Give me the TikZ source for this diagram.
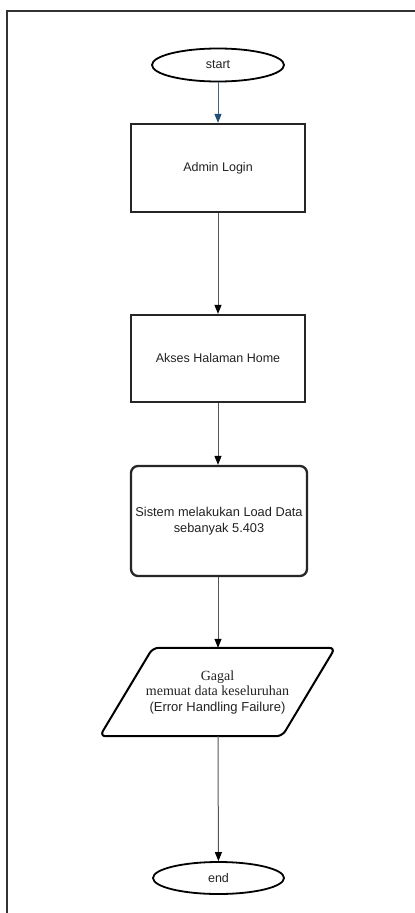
\documentclass[tikz,border=0pt]{standalone}
\usepackage{fontspec}
\setmainfont{Liberation Sans}
\newfontfamily\timesf{Liberation Serif}
\usetikzlibrary{shapes.geometric,arrows.meta}
\definecolor{txt}{HTML}{222222}
\definecolor{bluearrow}{HTML}{1F4E79}
\definecolor{shaft}{HTML}{555555}
\tikzset{
  terminal/.style={ellipse, draw=black, line width=1.8pt, minimum width=132pt, minimum height=33pt, inner sep=0pt, text=txt, font=\fontsize{12.5}{15}\selectfont},
  procbox/.style={rectangle, draw=black!85, line width=2.3pt, minimum width=174pt, inner sep=0pt, text=txt, font=\fontsize{12.5}{15}\selectfont},
  flow/.style={draw=shaft, line width=1pt, -{Stealth[length=9pt,width=7pt,inset=0pt,color=black]}},
  frame/.style={draw=black!80, line width=1.6pt}
}
\begin{document}
\begin{tikzpicture}[x=1pt,y=-1pt]
\useasboundingbox (0,0) rectangle (415,913);
\fill[white] (0,0) rectangle (415,913);
\draw[frame] (7,913) -- (7,11) -- (415,11);

\node[terminal] (start) at (218,65) {start};
\node[procbox, minimum height=88pt] (login) at (218,168) {Admin Login};
\node[procbox, minimum height=87pt] (home) at (218,358.5) {Akses Halaman Home};
\node[procbox, rounded corners=7pt, minimum width=176pt, minimum height=110pt, align=center, font=\fontsize{12.8}{16}\selectfont] (load) at (219,521) {Sistem melakukan Load Data\\sebanyak 5.403};
\node[minimum width=235pt, minimum height=88pt, inner sep=0pt, align=center, text=txt, font=\fontsize{14}{15.5}\selectfont] (fail) at (217.5,692)
  {\timesf Gagal\\\timesf memuat data keseluruhan\\\fontsize{13}{15.5}\selectfont (Error Handling Failure)};
\draw[draw=black, line width=2pt, rounded corners=6pt]
  ([xshift=53pt]fail.north west) -- (fail.north east) -- ([xshift=-53pt]fail.south east) -- (fail.south west) -- cycle;
\node[terminal, minimum height=32pt, minimum width=131pt] (end) at (218.5,878) {end};

\draw[draw=bluearrow!60!gray, line width=1pt, -{Stealth[length=9pt,width=7pt,inset=0pt,color=bluearrow]}] (start) -- (login);
\draw[flow] (login) -- (home);
\draw[flow] (home) -- (load.north -| home.south);
\draw[flow] (load.south -| home.south) -- (fail.north -| home.south);
\draw[flow] (fail.south -| home.south) -- (end);
\end{tikzpicture}
\end{document}
